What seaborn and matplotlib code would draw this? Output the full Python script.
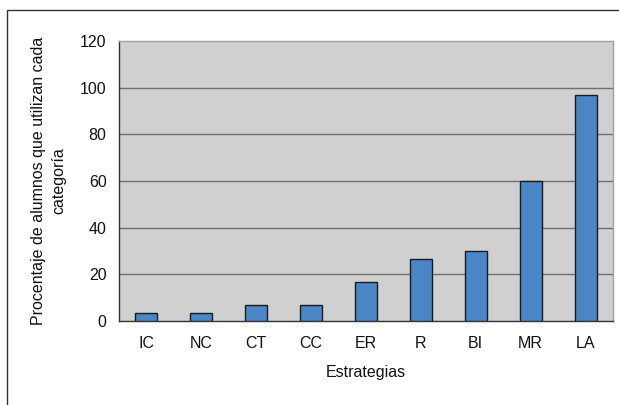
import numpy as np
import pandas as pd
import matplotlib
matplotlib.use("Agg")
import matplotlib.pyplot as plt
import seaborn as sns
from matplotlib.patches import Rectangle

estrategias = ["IC", "NC", "CT", "CC", "ER", "R", "BI", "MR", "LA"]
porcentajes = [3.3, 3.3, 6.7, 6.7, 16.7, 26.7, 30.0, 60.0, 96.7]
y_ticks = [0, 20, 40, 60, 80, 100, 120]

sns.set_style("white")
plt.rcParams["font.family"] = ["Liberation Sans", "DejaVu Sans"]
plt.rcParams["text.color"] = "#111111"
plt.rcParams["axes.labelcolor"] = "#111111"
plt.rcParams["xtick.color"] = "#111111"
plt.rcParams["ytick.color"] = "#111111"

df = pd.DataFrame({"Estrategias": estrategias, "Porcentaje": porcentajes})

fig = plt.figure(figsize=(6.19, 4.05), dpi=100)
ax = fig.add_axes([119 / 619, 1 - 321 / 405, (613 - 119) / 619, (321 - 41) / 405])
ax.set_facecolor("#d0d0d0")

sns.barplot(data=df, x="Estrategias", y="Porcentaje", ax=ax, color="#4a86c6",
            saturation=1, width=0.4, edgecolor="#1a1a1a", linewidth=1, zorder=3)

ax.set_ylim(0, 120)
ax.set_xlim(-0.5, len(estrategias) - 0.5)
ax.set_yticks(y_ticks)
for v in y_ticks[1:-1]:
    ax.axhline(v, color="#6e6e6e", lw=1, zorder=1)

ax.set_xticks(np.arange(-0.5, len(estrategias)), minor=True)
ax.tick_params(axis="x", which="major", length=0, pad=11, labelsize=11.5)
ax.tick_params(axis="x", which="minor", length=5, width=1, color="#333333", direction="out")
ax.tick_params(axis="y", length=5, width=1, color="#333333", direction="out", labelsize=11.5, pad=4)

for s in ["top", "right"]:
    ax.spines[s].set_color("#a0a0a0")
    ax.spines[s].set_linewidth(1)
for s in ["left", "bottom"]:
    ax.spines[s].set_color("#333333")
    ax.spines[s].set_linewidth(1)

ax.set_xlabel("Estrategias", fontsize=11.5, labelpad=10)
ax.set_ylabel("Procentaje de alumnos que utilizan cada\ncategoría", fontsize=11.5,
              labelpad=10, linespacing=1.45)

# outer frame of the chart
fig.patches.append(Rectangle((7 / 619, -0.05), 1.1, 1 - 10 / 405 + 0.05, transform=fig.transFigure,
                             fill=False, edgecolor="#333333", lw=1))

fig.savefig("out.png", dpi=100)
